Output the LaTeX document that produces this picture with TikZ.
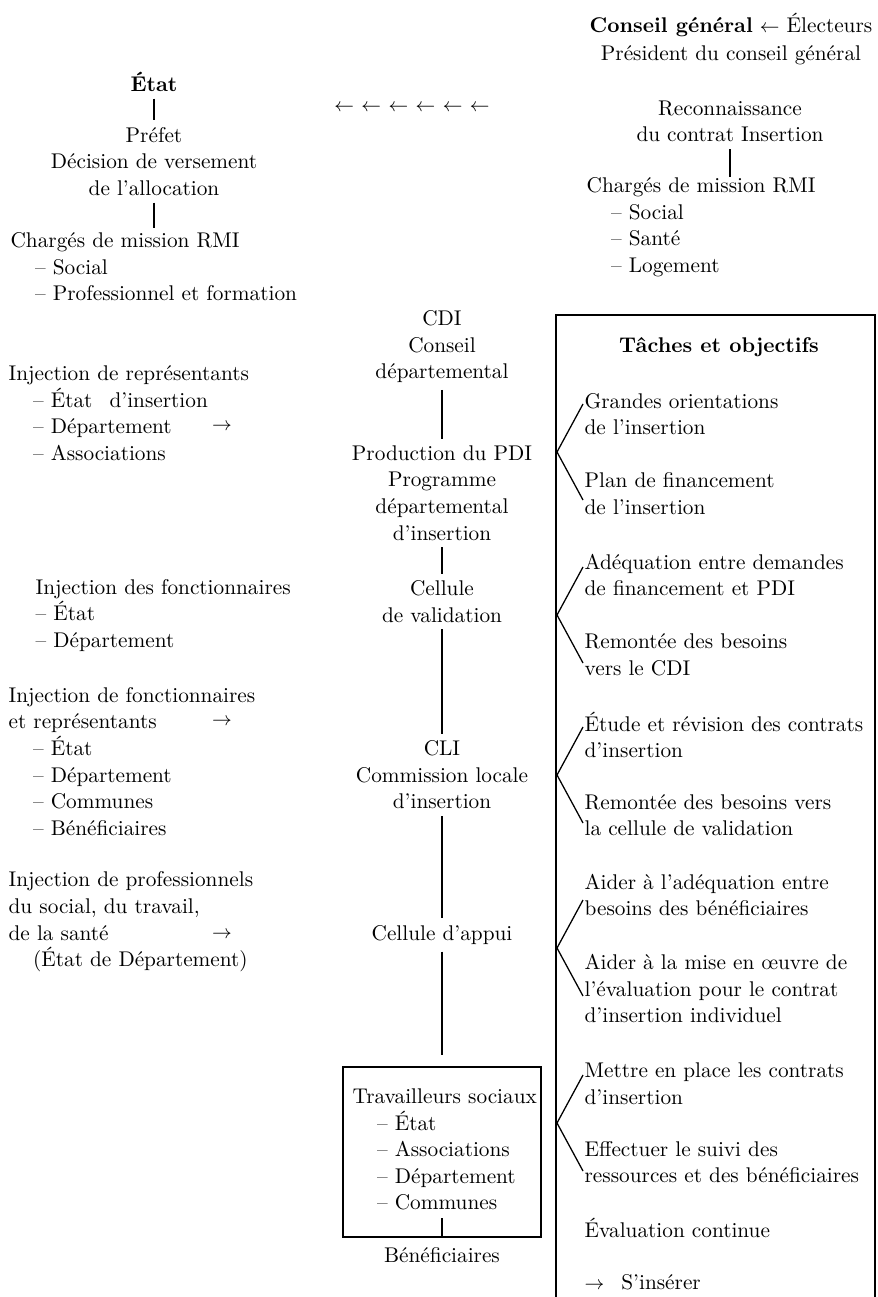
\documentclass[tikz,border=0pt]{standalone}
\usetikzlibrary{calc}
\begin{document}
\begin{tikzpicture}[x=0.47pt,y=-0.47pt,line width=0.6pt,
    every node/.style={font=\fontsize{10}{12.5}\selectfont},
    gauche/.style={anchor=west,align=left,inner sep=0pt},
    milieu/.style={align=center,inner sep=3pt},
    fleche/.style={inner sep=0pt,font=\small}]
    \useasboundingbox (0,0) rectangle (877,1297);
    % conseil general
    \node (conseil) at (731,25) {\textbf{Conseil général} {\small$\leftarrow$} Électeurs};
    \node (pres) at (731,55) {Président du conseil général};
    \node[milieu] (reco) at (730,121.5) {Reconnaissance\\du contrat Insertion};
    \node[gauche] (chgB) at (586,227) {Chargés de mission RMI\\\hspace*{11.5pt}– Social\\\hspace*{11.5pt}– Santé\\\hspace*{11.5pt}– Logement};
    \draw (reco.south) -- (reco.south |- chgB.north);
    \node[fleche] (fleches) at (412,108) {$\leftarrow$\hspace{3.5pt}$\leftarrow$\hspace{3.5pt}$\leftarrow$\hspace{3.5pt}$\leftarrow$\hspace{3.5pt}$\leftarrow$\hspace{3.5pt}$\leftarrow$};
    % etat
    \node[milieu] (etat) at (154,82) {\textbf{État}};
    \node[milieu] (prefet) at (154,161.5) {Préfet\\Décision de versement\\de l'allocation};
    \node[gauche] (chgA) at (10,267) {Chargés de mission RMI\\\hspace*{11.5pt}– Social\\\hspace*{11.5pt}– Professionnel et formation};
    \draw (etat) -- (prefet);
    \draw[shorten >=2pt] (prefet.south) -- (prefet.south |- chgA.north);
    % colonne du milieu
    \node[milieu] (cdi) at (442,346.7) {CDI\\Conseil\\départemental};
    \node[milieu] (pdi) at (442,493) {Production du PDI\\Programme\\départemental\\d'insertion};
    \node[milieu] (valid) at (442,601.5) {Cellule\\de validation};
    \node[milieu] (cli) at (442,775) {CLI\\Commission locale\\d'insertion};
    \node[milieu] (appui) at (442,935) {Cellule d'appui};
    \node[draw,minimum width=93pt,minimum height=80pt] (trav) at (442,1152) {};
    \node[gauche] (travtxt) at (352,1149.5) {Travailleurs sociaux\\\hspace*{11.5pt}– État\\\hspace*{11.5pt}– Associations\\\hspace*{11.5pt}– Département\\\hspace*{11.5pt}– Communes};
    \node[milieu] (benef) at (442,1255) {Bénéficiaires};
    \draw (cdi) -- (pdi);
    \draw (pdi) -- (valid);
    \draw (valid) -- (cli);
    \draw (cli) -- (appui);
    \draw[shorten >=5.5pt] (appui) -- (trav);
    \draw (trav.south) -- ++(0,-20);
    % injections
    \node[gauche] (injA) at (8,413) {Injection de représentants\\\hspace*{11.5pt}– État\hspace{8pt}d'insertion\\\hspace*{11.5pt}– Département\\\hspace*{11.5pt}– Associations};
    \node[fleche] (flA) at (222,427) {$\rightarrow$};
    \node[gauche] (injB) at (35,615.5) {Injection des fonctionnaires\\– État\\– Département};
    \node[gauche] (injC) at (8,761.5) {Injection de fonctionnaires\\et représentants\\\hspace*{11.5pt}– État\\\hspace*{11.5pt}– Département\\\hspace*{11.5pt}– Communes\\\hspace*{11.5pt}– Bénéficiaires};
    \node[fleche] (flB) at (222,722) {$\rightarrow$};
    \node[gauche] (injD) at (8,922) {Injection de professionnels\\du social, du travail,\\de la santé\\\hspace*{11.5pt}(État de Département)};
    \node[fleche] (flC) at (222,935) {$\rightarrow$};
    % taches et objectifs
    \draw (556,1297) -- (556,315) -- (875,315) -- (875,1297);
    \node (titre) at (719,347) {\textbf{Tâches et objectifs}};
    \node[gauche] (tA) at (584,414) {Grandes orientations\\de l'insertion};
    \node[gauche] (tB) at (584,493.5) {Plan de financement\\de l'insertion};
    \node[gauche] (tC) at (584,575) {Adéquation entre demandes\\de financement et PDI};
    \node[gauche] (tD) at (584,655) {Remontée des besoins\\vers le CDI};
    \node[gauche] (tE) at (584,735) {Étude et révision des contrats\\d'insertion};
    \node[gauche] (tF) at (584,815) {Remontée des besoins vers\\la cellule de validation};
    \node[gauche] (tG) at (584,895) {Aider à l'adéquation entre\\besoins des bénéficiaires};
    \node[gauche] (tH) at (584,988.5) {Aider à la mise en œuvre de\\l'évaluation pour le contrat\\d'insertion individuel};
    \node[gauche] (tI) at (584,1083.5) {Mettre en place les contrats\\d'insertion};
    \node[gauche] (tJ) at (584,1162) {Effectuer le suivi des\\ressources et des bénéficiaires};
    \node[gauche] (tK) at (584,1228) {Évaluation continue};
    \node[gauche] (tL) at (584,1282) {{\small$\rightarrow$}\hspace{8pt}S'insérer};
    % accolades
    \draw (583,404) -- (557,452) -- (583,500);
    \draw (583,567) -- (557,615) -- (583,663);
    \draw (583,727) -- (557,775) -- (583,823);
    \draw (583,900) -- (557,948) -- (583,996);
    \draw (583,1075) -- (557,1123) -- (583,1171);
\end{tikzpicture}
\end{document}
